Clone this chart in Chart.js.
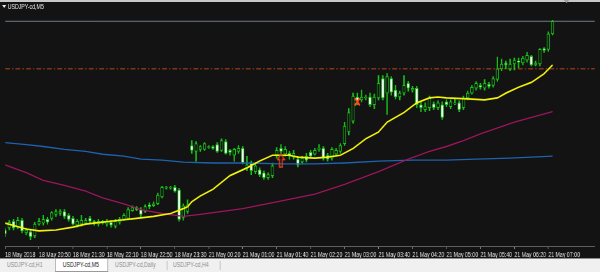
<!DOCTYPE html>
<html>
<head>
<meta charset="utf-8">
<script src="https://cdn.jsdelivr.net/npm/chart.js@4.4.1/dist/chart.umd.min.js"></script>
<style>
html, body { margin: 0; padding: 0; width: 600px; height: 272px; overflow: hidden; background: #131313; font-family: "Liberation Sans", Arial, sans-serif; }
#stage { position: absolute; left: 0; top: 0; width: 860px; height: 272px; transform: scaleX(0.697674); transform-origin: 0 0; }
#chart { position: absolute; left: 0; top: 0; width: 860px; height: 258px; }
#topbar { position: absolute; left: 0; top: 0; width: 860px; height: 2px; background: #c8c8c8; }
#title { position: absolute; left: 11px; top: 3px; color: #e6e6e6; font-size: 7.5px; line-height: 8px; white-space: nowrap; }
#tri { position: absolute; left: 3px; top: 5px; width: 0; height: 0; border-left: 3px solid transparent; border-right: 3px solid transparent; border-top: 3px solid #e6e6e6; }
#shift { position: absolute; left: 808px; top: 0; width: 0; height: 0; border-left: 4px solid transparent; border-right: 4px solid transparent; border-top: 3px solid #9aa0a6; }
#tabs { position: absolute; left: 0; top: 258px; width: 860px; height: 14px; background: #f0f0f0; border-top: 1px solid #8c8c8c; box-sizing: border-box; }
.tab { position: absolute; top: 0; height: 13px; line-height: 12px; font-size: 7.5px; color: #8e8e8e; white-space: nowrap; }
.tab.active { background: #ffffff; color: #1a1a1a; border: 1px solid #9a9a9a; border-top: none; box-sizing: border-box; padding-left: 10px; }
.sep { position: absolute; top: 2px; width: 1px; height: 9px; background: #b4b4b4; }
</style>
</head>
<body>
<div id="stage">
  <canvas id="chart" width="860" height="258"></canvas>
  <div id="topbar"></div>
  <div id="tri"></div>
  <div id="title">USDJPY-cd,M5</div>
  <div id="shift"></div>
  <div id="tabs">
    <div class="tab" style="left:10px">USDJPY-cd,H1</div>
    <div class="tab active" style="left:79px;width:76px">USDJPY-cd,M5</div>
    <div class="tab" style="left:165px">USDJPY-cd,Daily</div>
    <div class="sep" style="left:239px"></div>
    <div class="tab" style="left:248px">USDJPY-cd,H4</div>
    <div class="sep" style="left:315px"></div>
  </div>
</div>
<script>
// M5 bars, one per index
const opens = [
  111.021, 111.023, 111.030, 111.024, 111.031, 111.018, 111.019, 111.015, 111.027, 111.028,
  111.032, 111.033, 111.037, 111.038, 111.040, 111.036, 111.033, 111.026, 111.027, 111.028,
  111.033, 111.030, 111.027, 111.028, 111.027, 111.029, 111.025, 111.029, 111.032, 111.033,
  111.041, 111.044, 111.042, 111.040, 111.047, 111.046, 111.048, 111.055, 111.064, 111.064,
  111.065, 111.062, 111.034, 111.040, 111.108, 111.102, 111.104, 111.104, 111.106, 111.107,
  111.109, 111.103, 111.112, 111.103, 111.098, 111.102, 111.105, 111.085, 111.090, 111.081,
  111.083, 111.080, 111.075, 111.077, 111.098, 111.105, 111.099, 111.100, 111.096, 111.094,
  111.091, 111.097, 111.101, 111.099, 111.104, 111.105, 111.098, 111.095, 111.099, 111.102,
  111.110, 111.122, 111.133, 111.158, 111.155, 111.157, 111.158, 111.150, 111.157, 111.177,
  111.162, 111.177, 111.165, 111.158, 111.162, 111.172, 111.165, 111.167, 111.150, 111.145,
  111.147, 111.151, 111.147, 111.150, 111.153, 111.148, 111.151, 111.152, 111.147, 111.157,
  111.162, 111.167, 111.170, 111.167, 111.171, 111.170, 111.176, 111.187, 111.193, 111.187,
  111.192, 111.195, 111.193, 111.196, 111.200, 111.191, 111.192, 111.208, 111.207, 111.223
];
const highs = [
  111.023, 111.031, 111.032, 111.034, 111.033, 111.023, 111.021, 111.029, 111.033, 111.036,
  111.034, 111.040, 111.042, 111.042, 111.042, 111.038, 111.035, 111.032, 111.036, 111.033,
  111.035, 111.031, 111.032, 111.031, 111.032, 111.031, 111.032, 111.034, 111.038, 111.044,
  111.046, 111.045, 111.044, 111.047, 111.049, 111.050, 111.059, 111.066, 111.066, 111.066,
  111.067, 111.064, 111.048, 111.052, 111.113, 111.112, 111.108, 111.111, 111.108, 111.108,
  111.111, 111.115, 111.114, 111.104, 111.105, 111.108, 111.107, 111.097, 111.092, 111.089,
  111.085, 111.082, 111.080, 111.090, 111.106, 111.109, 111.107, 111.102, 111.103, 111.097,
  111.097, 111.100, 111.103, 111.105, 111.109, 111.107, 111.100, 111.106, 111.105, 111.110,
  111.132, 111.146, 111.162, 111.162, 111.165, 111.160, 111.162, 111.161, 111.180, 111.180,
  111.182, 111.179, 111.170, 111.164, 111.180, 111.174, 111.169, 111.169, 111.153, 111.152,
  111.159, 111.153, 111.154, 111.153, 111.155, 111.155, 111.156, 111.154, 111.159, 111.164,
  111.170, 111.174, 111.172, 111.176, 111.173, 111.179, 111.199, 111.197, 111.195, 111.197,
  111.198, 111.198, 111.200, 111.204, 111.201, 111.195, 111.208, 111.209, 111.225, 111.237
];
const lows = [
  111.014, 111.021, 111.021, 111.022, 111.018, 111.016, 111.011, 111.013, 111.026, 111.026,
  111.027, 111.031, 111.035, 111.036, 111.033, 111.030, 111.026, 111.024, 111.025, 111.027,
  111.028, 111.026, 111.025, 111.027, 111.025, 111.024, 111.023, 111.027, 111.031, 111.032,
  111.040, 111.041, 111.034, 111.039, 111.043, 111.045, 111.047, 111.054, 111.063, 111.063,
  111.060, 111.030, 111.031, 111.038, 111.100, 111.092, 111.102, 111.103, 111.105, 111.104,
  111.101, 111.102, 111.099, 111.098, 111.092, 111.100, 111.089, 111.082, 111.078, 111.079,
  111.076, 111.073, 111.073, 111.075, 111.095, 111.100, 111.097, 111.094, 111.094, 111.086,
  111.089, 111.091, 111.095, 111.098, 111.102, 111.093, 111.092, 111.093, 111.097, 111.100,
  111.108, 111.119, 111.131, 111.150, 111.153, 111.155, 111.148, 111.146, 111.155, 111.155,
  111.140, 111.160, 111.156, 111.155, 111.160, 111.164, 111.163, 111.147, 111.143, 111.143,
  111.144, 111.145, 111.145, 111.135, 111.148, 111.146, 111.150, 111.143, 111.145, 111.155,
  111.161, 111.165, 111.166, 111.165, 111.167, 111.168, 111.174, 111.185, 111.187, 111.185,
  111.186, 111.188, 111.191, 111.194, 111.190, 111.190, 111.190, 111.204, 111.205, 111.222
];
const closes = [
  111.017, 111.029, 111.023, 111.031, 111.020, 111.021, 111.014, 111.027, 111.030, 111.032,
  111.029, 111.039, 111.040, 111.040, 111.035, 111.032, 111.027, 111.030, 111.031, 111.031,
  111.030, 111.028, 111.030, 111.030, 111.030, 111.026, 111.030, 111.032, 111.036, 111.042,
  111.044, 111.042, 111.037, 111.045, 111.045, 111.048, 111.057, 111.065, 111.065, 111.065,
  111.061, 111.032, 111.046, 111.047, 111.103, 111.110, 111.107, 111.110, 111.107, 111.105,
  111.102, 111.113, 111.100, 111.101, 111.104, 111.105, 111.090, 111.088, 111.082, 111.087,
  111.078, 111.075, 111.078, 111.087, 111.103, 111.102, 111.104, 111.097, 111.100, 111.088,
  111.095, 111.093, 111.097, 111.103, 111.105, 111.095, 111.094, 111.104, 111.103, 111.108,
  111.128, 111.142, 111.159, 111.154, 111.158, 111.158, 111.150, 111.158, 111.172, 111.157,
  111.179, 111.163, 111.158, 111.162, 111.170, 111.167, 111.167, 111.150, 111.147, 111.148,
  111.157, 111.147, 111.152, 111.137, 111.150, 111.153, 111.152, 111.145, 111.157, 111.162,
  111.168, 111.172, 111.168, 111.172, 111.169, 111.177, 111.187, 111.192, 111.191, 111.192,
  111.196, 111.194, 111.198, 111.201, 111.191, 111.193, 111.207, 111.206, 111.223, 111.236
];

// moving averages: [bar index, price]
const maYellow = [
  [0, 111.028], [5, 111.022], [8, 111.020], [12, 111.021], [16, 111.024], [19, 111.027],
  [23, 111.029], [27, 111.031], [31, 111.033], [35, 111.035], [39, 111.038], [42, 111.043],
  [43, 111.045], [44, 111.050], [46, 111.056], [49, 111.063], [53, 111.077], [57, 111.085],
  [60, 111.092], [63, 111.098], [67, 111.098], [69, 111.096], [73, 111.095], [76, 111.096],
  [79, 111.098], [82, 111.105], [85, 111.115], [88, 111.122], [90, 111.132], [94, 111.142],
  [97, 111.152], [100, 111.157], [102, 111.158], [104, 111.157], [109, 111.156], [113, 111.155],
  [116, 111.157], [118, 111.162], [121, 111.168], [124, 111.173], [127, 111.182], [129, 111.191]
];
const maMagenta = [
  [0, 111.088], [5, 111.080], [9, 111.072], [14, 111.067], [19, 111.061], [23, 111.054],
  [28, 111.048], [32, 111.042], [37, 111.038], [42, 111.035], [46, 111.037], [56, 111.043],
  [64, 111.050], [73, 111.058], [80, 111.068], [88, 111.081], [95, 111.094], [100, 111.102],
  [104, 111.107], [108, 111.113], [112, 111.120], [120, 111.132], [129, 111.143]
];
const maBlue = [
  [0, 111.111], [5, 111.109], [9, 111.107], [14, 111.104], [19, 111.102], [23, 111.099],
  [28, 111.097], [32, 111.094], [37, 111.093], [42, 111.091], [49, 111.090], [57, 111.090],
  [65, 111.089], [73, 111.089], [80, 111.090], [88, 111.092], [96, 111.093], [104, 111.093],
  [111, 111.094], [119, 111.095], [129, 111.097]
];

const bidPrice = 111.236;
const orderPrice = 111.187;
const sellMarks = [[83, 111.153]];
const buyMarks = [[65, 111.0925]];

const tickLabels = [
  "18 May 2018", "18 May 20:50", "18 May 21:30", "18 May 22:10", "18 May 22:50", "18 May 23:30",
  "21 May 00:20", "21 May 01:00", "21 May 01:40", "21 May 02:20", "21 May 03:00", "21 May 03:40",
  "21 May 04:20", "21 May 05:00", "21 May 05:40", "21 May 06:20", "21 May 07:00"
];
const barsPerLabel = 8;
const lastSlot = 139; // chart shift leaves empty room on the right

const green = "#19c419";
const pts = (arr) => arr.map(([x, y]) => ({ x, y }));

const wicks = highs.map((h, i) => ({ x: i, y: [lows[i], h] }));
const bodies = opens.map((o, i) => ({ x: i, y: [o, closes[i]] }));

const makeArrow = () => {
    const c = document.createElement("canvas");
    c.width = 12;
    c.height = 15;
    const g = c.getContext("2d");
    g.strokeStyle = "#e8441c";
    g.lineWidth = 1.6;
    g.beginPath();
    g.moveTo(6, 1);
    g.lineTo(11, 6.5);
    g.lineTo(8, 6.5);
    g.lineTo(8, 14);
    g.lineTo(4, 14);
    g.lineTo(4, 6.5);
    g.lineTo(1, 6.5);
    g.closePath();
    g.stroke();
    return c;
};

const ctx = document.getElementById("chart").getContext("2d");

new Chart(ctx, {
    type: "bar",
    data: {
        datasets: [
            {
                type: "line",
                data: pts(sellMarks),
                showLine: false,
                pointStyle: "crossRot",
                pointRadius: 5,
                pointBorderWidth: 2.2,
                pointBorderColor: "#ff4a1e",
                order: 0,
            },
            {
                type: "line",
                data: pts(buyMarks),
                showLine: false,
                pointStyle: makeArrow(),
                order: 0,
            },
            {
                type: "line",
                data: pts(maYellow),
                borderColor: "#f2f20a",
                borderWidth: 1.7,
                pointRadius: 0,
                order: 1,
            },
            {
                type: "line",
                data: pts(maMagenta),
                borderColor: "#a0165e",
                borderWidth: 1.3,
                pointRadius: 0,
                order: 1,
            },
            {
                type: "line",
                data: pts(maBlue),
                borderColor: "#1f63b0",
                borderWidth: 1.3,
                pointRadius: 0,
                order: 1,
            },
            {
                data: bodies,
                grouped: false,
                barThickness: 4,
                borderWidth: 1,
                borderSkipped: false,
                borderColor: green,
                backgroundColor: bodies.map((b) => (b.y[1] < b.y[0] ? "#f4fff4" : "#131313")),
                order: 2,
            },
            {
                data: wicks,
                grouped: false,
                barThickness: 1.4,
                borderWidth: 0,
                backgroundColor: green,
                order: 3,
            },
            {
                type: "line",
                data: [{ x: 0, y: bidPrice }, { x: lastSlot, y: bidPrice }],
                borderColor: "#6f7c88",
                borderWidth: 1,
                pointRadius: 0,
                order: 4,
            },
            {
                type: "line",
                data: [{ x: 0, y: orderPrice }, { x: lastSlot, y: orderPrice }],
                borderColor: "#b8461c",
                borderWidth: 1,
                borderDash: [7, 3, 2, 3],
                pointRadius: 0,
                order: 4,
            },
        ],
    },
    options: {
        responsive: false,
        animation: false,
        devicePixelRatio: 1,
        layout: { padding: 0 },
        plugins: { legend: { display: false }, tooltip: { enabled: false } },
        scales: {
            x: {
                type: "linear",
                min: 0,
                max: lastSlot,
                offset: false,
                afterFit: (s) => { s.height = 12; },
                border: { display: true, color: "#5e5e5e", width: 1 },
                grid: {
                    offset: false,
                    drawOnChartArea: false,
                    drawTicks: true,
                    tickLength: 3,
                    color: (c) => {
                        const v = c.tick ? Math.round(c.tick.value) : -1;
                        return v >= 0 && v % barsPerLabel === 0 && tickLabels[v / barsPerLabel] ? "#8a8a8a" : "rgba(0,0,0,0)";
                    },
                },
                ticks: {
                    stepSize: barsPerLabel,
                    autoSkip: false,
                    maxRotation: 0,
                    minRotation: 0,
                    align: "start",
                    padding: 1,
                    color: "#e2e2e2",
                    font: { family: "'Liberation Sans', Arial, sans-serif", size: 7.5 },
                    callback: (v) => {
                        const i = Math.round(v);
                        return i % barsPerLabel === 0 ? (tickLabels[i / barsPerLabel] || "") : "";
                    },
                },
            },
            y: {
                type: "linear",
                display: false,
                min: 111.0045,
                max: 111.2505,
            },
        },
    },
});
</script>
</body>
</html>
